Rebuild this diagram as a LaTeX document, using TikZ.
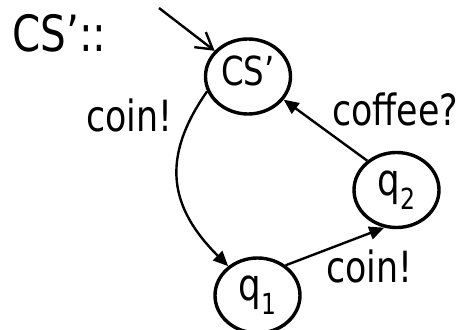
\documentclass[tikz,border=0pt]{standalone}
\usepackage{graphicx}
\usepackage{fontspec}
\setmainfont{DejaVu Sans Condensed}
\usetikzlibrary{shapes.geometric,arrows.meta}
% lowered subscript for state names
\newcommand\statesub[1]{\raisebox{-14pt}{\fontsize{29}{29}\selectfont #1}}
% slightly narrowed lettering
\newcommand\narrowtext[1]{\scalebox{0.9}[1]{#1}}
\begin{document}
\begin{tikzpicture}[x=1pt,y=1pt,
  stnode/.style={ellipse, draw, line width=3.4pt, minimum width=85pt,
    minimum height=75pt, inner sep=0pt, font=\fontsize{44}{44}\selectfont},
  lbl/.style={anchor=base west, inner sep=0pt, font=\fontsize{43}{43}\selectfont},
  conn/.style={line width=2.4pt, -{Triangle[length=15pt,width=13pt]}},
  initconn/.style={line width=2.4pt, -{Straight Barb[length=16pt,width=19pt]}}
]
\useasboundingbox (0,0) rectangle (465,329);

% states
\node[stnode, text height=28pt, text depth=10pt, font=\fontsize{40}{40}\selectfont]
  (cs) at (248,252.5) {\narrowtext{CS’}};
\node[stnode] (q1) at (257.5,33.5) {\narrowtext{q\statesub{1}}};
\node[stnode] (q2) at (396.5,139) {\narrowtext{q\statesub{2}}};
\coordinate (start) at (159,321);

% title and transition labels
\node[lbl, font=\fontsize{50}{50}\selectfont] (title) at (12,277) {\narrowtext{CS’::}};
\node[lbl] (lcoin) at (86,197) {\narrowtext{coin!}};
\node[lbl] (lcoffee) at (332,203) {\narrowtext{coffee?}};
\node[lbl] (lcoin2) at (326,46) {\narrowtext{coin!}};

% transitions
\draw[initconn] (start) -- (cs);
\draw[conn] (cs.200) to[out=235,in=135,looseness=1.2] (q1.135);
\draw[conn] (q2.135) -- (cs.-33);
\draw[conn] (q1.47) -- (q2.252);
\end{tikzpicture}
\end{document}
